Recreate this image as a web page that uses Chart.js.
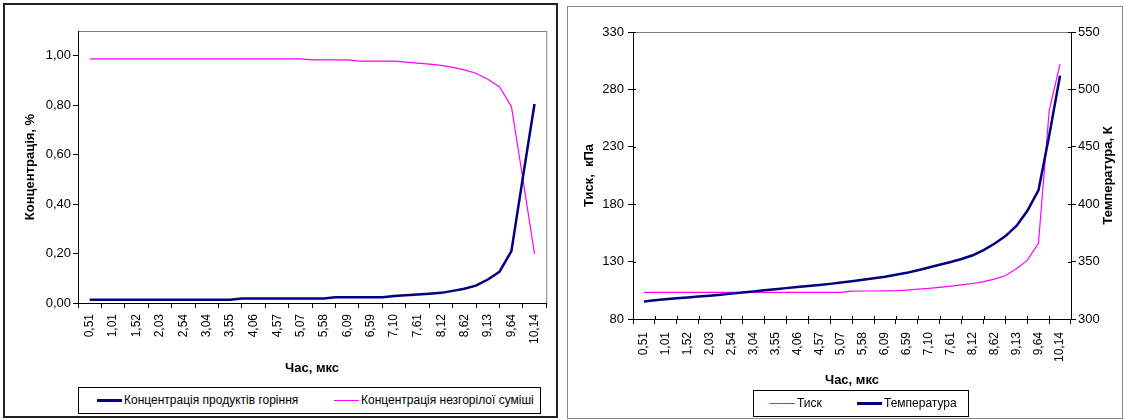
<!DOCTYPE html>
<html lang="uk">
<head>
<meta charset="utf-8">
<title>Концентрація, тиск і температура</title>
<script src="https://cdn.jsdelivr.net/npm/chart.js@4.4.1/dist/chart.umd.min.js"></script>
<style>
    html, body { margin: 0; padding: 0; background: #fff; }
    body { position: relative; width: 1124px; height: 420px; overflow: hidden;
           font-family: "Liberation Sans", Arial, sans-serif; }
    .panel { position: absolute; box-sizing: border-box; }
    #panelLeft { left: 3px; top: 3px; width: 555px; height: 415px; border: 2px solid #222; }
    #panelRight { left: 567px; top: 6px; width: 556px; height: 413px; border: 1px solid #888; }
    canvas { position: absolute; }
    #chartLeft { left: 5px; top: 5px; }
    #chartRight { left: 569px; top: 8px; }
    .legend { position: absolute; box-sizing: border-box; border: 1px solid #000; background: #fff;
              font-size: 12px; color: #000; }
    #legendLeft { left: 78px; top: 387px; width: 463px; height: 27px; }
    #legendRight { left: 753px; top: 390px; width: 216px; height: 27px; }
    .legend .item { position: absolute; top: 0; height: 25px; line-height: 25px; white-space: nowrap;
                    padding-left: 27px; }
    .legend .sample { position: absolute; left: 0; width: 25px; }
</style>
</head>
<body>
<div class="panel" id="panelLeft"></div>
<div class="panel" id="panelRight"></div>
<canvas id="chartLeft" width="550" height="410"></canvas>
<canvas id="chartRight" width="552" height="410"></canvas>
<div class="legend" id="legendLeft"></div>
<div class="legend" id="legendRight"></div>

<script>
// ===== ДАНІ =====

// час, мкс (точки розрахунку)
const time = [0.51, 0.76, 1.01, 1.27, 1.52, 1.77, 2.03, 2.28, 2.54, 2.79,
              3.04, 3.30, 3.55, 3.80, 4.06, 4.31, 4.57, 4.82, 5.07, 5.32,
              5.58, 5.83, 6.09, 6.34, 6.59, 6.85, 7.10, 7.35, 7.61, 7.86,
              8.12, 8.37, 8.62, 8.87, 9.13, 9.38, 9.64, 9.89, 10.14];

// підписи осі часу (кожна друга точка)
const tickLabels = ['0,51', '1,01', '1,52', '2,03', '2,54', '3,04', '3,55', '4,06', '4,57', '5,07',
                    '5,58', '6,09', '6,59', '7,10', '7,61', '8,12', '8,62', '9,13', '9,64', '10,14'];

// концентрація продуктів горіння
const productsConc = [0.013, 0.013, 0.013, 0.013, 0.013, 0.013, 0.013, 0.013, 0.013, 0.013,
                      0.013, 0.013, 0.013, 0.018, 0.018, 0.018, 0.018, 0.018, 0.018, 0.018,
                      0.018, 0.023, 0.023, 0.023, 0.023, 0.023, 0.028, 0.031, 0.034, 0.037,
                      0.041, 0.049, 0.058, 0.070, 0.095, 0.126, 0.210, 0.510, 0.805];

// концентрація незгорілої суміші
const mixtureConc = [0.987, 0.987, 0.987, 0.987, 0.987, 0.987, 0.987, 0.987, 0.987, 0.987,
                     0.987, 0.987, 0.987, 0.987, 0.987, 0.987, 0.987, 0.987, 0.987, 0.983,
                     0.983, 0.983, 0.983, 0.978, 0.978, 0.978, 0.978, 0.974, 0.970, 0.966,
                     0.961, 0.953, 0.943, 0.929, 0.905, 0.875, 0.795, 0.500, 0.199];

// тиск, кПа
const pressure = [103.2, 103.2, 103.2, 103.2, 103.2, 103.2, 103.2, 103.2, 103.2, 103.2,
                  103.2, 103.2, 103.2, 103.2, 103.2, 103.2, 103.2, 103.2, 103.2, 104.3,
                  104.4, 104.4, 104.5, 104.6, 105.2, 106.0, 106.6, 107.6, 108.6, 109.7,
                  110.9, 112.5, 114.8, 117.7, 123.8, 131.0, 146.0, 262.0, 302.0];

// температура, К
const temperature = [315.3, 316.3, 317.2, 318.0, 318.8, 319.5, 320.3, 321.2, 322.1, 323.1,
                     324.0, 325.0, 325.9, 326.9, 327.8, 328.7, 329.6, 330.6, 331.7, 332.9,
                     334.1, 335.4, 336.8, 338.6, 340.2, 342.5, 344.8, 347.2, 349.6, 352.3,
                     355.5, 360.0, 365.5, 372.0, 381.0, 394.0, 412.0, 460.0, 512.0];

const NAVY = '#000080';
const PINK = '#ff00ff';

Chart.defaults.font.family = '"Liberation Sans", Arial, sans-serif';
Chart.defaults.font.size = 12;
Chart.defaults.color = '#000';

const tickTimes = time.filter((t, i) => i % 2 === 0);

function xy(values) {
    return time.map((t, i) => ({ x: t, y: values[i] }));
}

function fmt2(v) {
    return v.toFixed(2).replace('.', ',');
}

// вісь часу: підписи по центру, риски між ними
function timeAxis(height, labelPad, titlePad) {
    return {
        type: 'linear',
        bounds: 'data',
        min: 0.2566,
        max: 10.3934,
        afterBuildTicks: function(scale) {
            scale.ticks = tickTimes.map(v => ({ value: v }));
        },
        afterFit: function(scale) { scale.height = height; },
        ticks: {
            autoSkip: false,
            minRotation: 90,
            maxRotation: 90,
            padding: labelPad,
            font: { size: 12 },
            callback: (v, i) => tickLabels[i]
        },
        grid: { offset: true, drawOnChartArea: false, tickLength: 5, tickColor: '#000' },
        border: { color: '#000' },
        title: {
            display: true,
            text: 'Час, мкс',
            font: { size: 13, weight: 'bold' },
            padding: { top: 0, bottom: titlePad }
        }
    };
}

// рамка області побудови (сіра)
const plotFrame = {
    id: 'plotFrame',
    beforeDraw: function(chart) {
        const a = chart.chartArea;
        const ctx = chart.ctx;
        ctx.save();
        ctx.strokeStyle = '#808080';
        ctx.lineWidth = 1;
        ctx.strokeRect(a.left + 0.5, a.top + 0.5, a.right - a.left, a.bottom - a.top);
        ctx.restore();
    }
};

// риски всередину для правого графіка (перехресні)
const innerTicks = {
    id: 'innerTicks',
    afterDatasetsDraw: function(chart) {
        const a = chart.chartArea;
        const ctx = chart.ctx;
        const len = 3;
        const sx = chart.scales.x, sy = chart.scales.y, sy1 = chart.scales.y1;
        ctx.save();
        ctx.strokeStyle = '#000';
        ctx.lineWidth = 1;
        ctx.beginPath();
        sy.ticks.forEach(t => {
            const p = Math.round(sy.getPixelForValue(t.value)) + 0.5;
            ctx.moveTo(a.left, p); ctx.lineTo(a.left + len, p);
        });
        sy1.ticks.forEach(t => {
            const p = Math.round(sy1.getPixelForValue(t.value)) + 0.5;
            ctx.moveTo(a.right - len, p); ctx.lineTo(a.right, p);
        });
        const px = sx.ticks.map(t => sx.getPixelForValue(t.value));
        for (let i = 1; i < px.length; i++) {
            const p = Math.round((px[i - 1] + px[i]) / 2) + 0.5;
            ctx.moveTo(p, a.bottom); ctx.lineTo(p, a.bottom - len);
        }
        ctx.stroke();
        ctx.restore();
    }
};

// підпис правої осі, читається знизу вгору
const rightTitle = {
    id: 'rightTitle',
    afterDraw: function(chart, args, opts) {
        const s = chart.scales.y1;
        const a = chart.chartArea;
        const ctx = chart.ctx;
        ctx.save();
        ctx.translate(s.right - opts.offset, (a.top + a.bottom) / 2);
        ctx.rotate(-Math.PI / 2);
        ctx.font = 'bold 13px "Liberation Sans", Arial, sans-serif';
        ctx.fillStyle = '#000';
        ctx.textAlign = 'center';
        ctx.textBaseline = 'middle';
        ctx.fillText(opts.text, 0, 0);
        ctx.restore();
    }
};

function buildLegend(el, items) {
    items.forEach(it => {
        const div = document.createElement('div');
        div.className = 'item';
        div.style.left = it.left + 'px';
        const s = document.createElement('span');
        s.className = 'sample';
        s.style.height = it.width + 'px';
        s.style.top = (13 - Math.ceil(it.width / 2)) + 'px';
        s.style.background = it.color;
        div.appendChild(s);
        div.appendChild(document.createTextNode(it.label));
        el.appendChild(div);
    });
}

// ===== ЛІВИЙ ГРАФІК: КОНЦЕНТРАЦІЇ =====
const leftSets = [
    { label: 'Концентрація продуктів горіння', data: xy(productsConc), borderColor: NAVY, borderWidth: 2.5 },
    { label: 'Концентрація незгорілої суміші', data: xy(mixtureConc), borderColor: PINK, borderWidth: 1.2 }
];

new Chart(document.getElementById('chartLeft'), {
    type: 'line',
    data: { datasets: leftSets },
    options: {
        responsive: false,
        animation: false,
        layout: { padding: { left: 0, top: 26, right: 4, bottom: 32 } },
        elements: { point: { radius: 0 }, line: { tension: 0 } },
        plugins: { legend: { display: false }, tooltip: { enabled: false } },
        scales: {
            x: timeAxis(80, 6, 7),
            y: {
                min: 0,
                max: 1.1,
                afterBuildTicks: function(scale) {
                    scale.ticks = scale.ticks.filter(t => t.value <= 1.0001);
                },
                afterFit: function(scale) { scale.width = 73; },
                ticks: { stepSize: 0.2, padding: 2, font: { size: 13 }, callback: v => fmt2(v) },
                grid: { drawOnChartArea: false, tickLength: 5, tickColor: '#000' },
                border: { color: '#000' },
                title: {
                    display: true,
                    text: 'Концентрація, %',
                    font: { size: 13, weight: 'bold' },
                    padding: { top: 18, bottom: 0 }
                }
            }
        }
    },
    plugins: [plotFrame]
});

buildLegend(document.getElementById('legendLeft'), [
    { label: leftSets[0].label, color: NAVY, width: 3, left: 18 },
    { label: leftSets[1].label, color: PINK, width: 1, left: 255 }
]);

// ===== ПРАВИЙ ГРАФІК: ТИСК І ТЕМПЕРАТУРА =====
const rightSets = [
    { label: 'Тиск', data: xy(pressure), borderColor: PINK, borderWidth: 1.2, yAxisID: 'y', order: 2 },
    { label: 'Температура', data: xy(temperature), borderColor: NAVY, borderWidth: 2.5, yAxisID: 'y1', order: 1 }
];

new Chart(document.getElementById('chartRight'), {
    type: 'line',
    data: { datasets: rightSets },
    options: {
        responsive: false,
        animation: false,
        layout: { padding: { left: 0, top: 24, right: 0, bottom: 24 } },
        elements: { point: { radius: 0 }, line: { tension: 0 } },
        plugins: {
            legend: { display: false },
            tooltip: { enabled: false },
            rightTitle: { text: 'Температура, К', offset: 13 }
        },
        scales: {
            x: timeAxis(75, 8, 6),
            y: {
                position: 'left',
                min: 80,
                max: 330,
                afterFit: function(scale) { scale.width = 64; },
                ticks: { stepSize: 50, padding: 4, font: { size: 13 } },
                grid: { drawOnChartArea: false, tickLength: 5, tickColor: '#000' },
                border: { color: '#000' },
                title: {
                    display: true,
                    text: 'Тиск,  кПа',
                    font: { size: 13, weight: 'bold' },
                    padding: { top: 13, bottom: 0 }
                }
            },
            y1: {
                position: 'right',
                min: 300,
                max: 550,
                afterFit: function(scale) { scale.width = 50; },
                ticks: { stepSize: 50, padding: 2, font: { size: 13 } },
                grid: { drawOnChartArea: false, tickLength: 5, tickColor: '#000' },
                border: { color: '#000' }
            }
        }
    },
    plugins: [plotFrame, innerTicks, rightTitle]
});

buildLegend(document.getElementById('legendRight'), [
    { label: rightSets[0].label, color: PINK, width: 1, left: 16 },
    { label: rightSets[1].label, color: NAVY, width: 3, left: 103 }
]);
</script>
</body>
</html>
